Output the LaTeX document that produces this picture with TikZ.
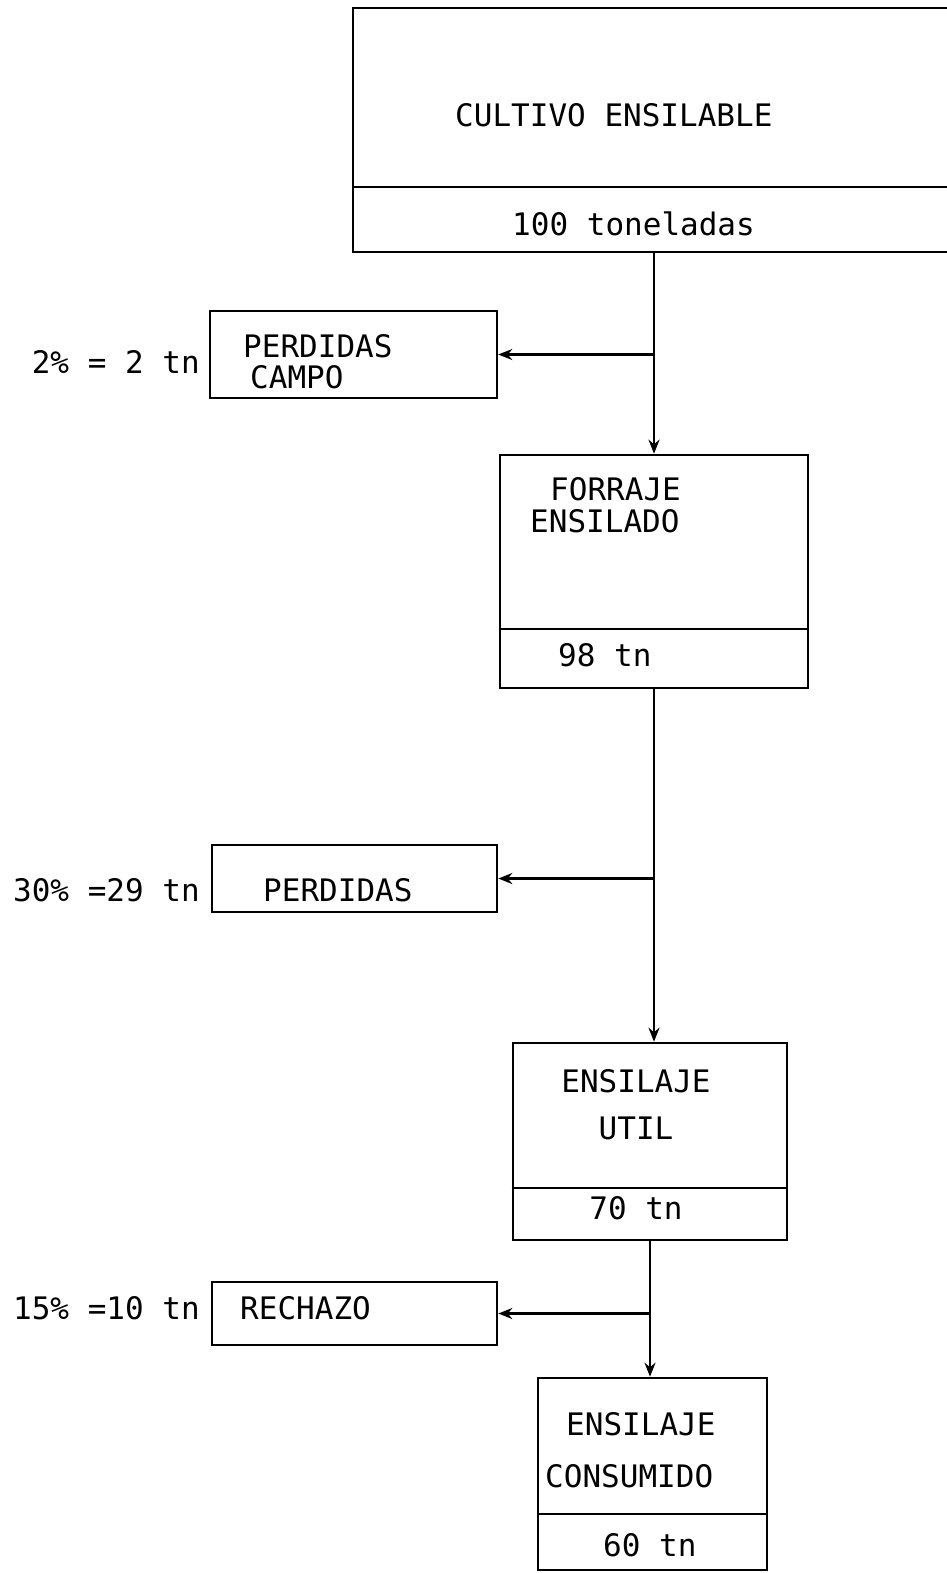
\documentclass[tikz,border=0pt]{standalone}
\usepackage{fontspec}
\setmonofont{DejaVu Sans Mono}
\usetikzlibrary{arrows.meta}
\begin{document}
\begin{tikzpicture}[x=1pt,y=-1pt,
  box/.style={draw, line width=2.6pt, inner sep=0pt},
  txt/.style={font=\ttfamily\fontsize{31}{36}\selectfont, inner sep=0pt},
  flow/.style={line width=2.6pt, -{Stealth[length=14pt,width=11pt]}},
  divider/.style={line width=2.6pt}
]
\clip (0,0) rectangle (947,1573);
\fill[white] (0,0) rectangle (947,1573);
% boxes
\node[box, minimum width=607pt, minimum height=244pt] (b1) at (656.5,130) {};
\node[box, minimum width=287pt, minimum height=87pt] (pc) at (353.5,354.5) {};
\node[box, minimum width=308pt, minimum height=233pt] (b2) at (654,571.5) {};
\node[box, minimum width=285pt, minimum height=67pt] (pl) at (354.5,878.5) {};
\node[box, minimum width=274pt, minimum height=197pt] (b3) at (650,1141.5) {};
\node[box, minimum width=285pt, minimum height=63pt] (rc) at (354.5,1313.5) {};
\node[box, minimum width=229pt, minimum height=192pt] (b4) at (652.5,1474) {};
% dividers
\coordinate (d1) at (0,187);
\coordinate (d2) at (0,629);
\coordinate (d3) at (0,1188);
\coordinate (d4) at (0,1514);
\draw[divider] (b1.west |- d1) -- (b1.east |- d1);
\draw[divider] (b2.west |- d2) -- (b2.east |- d2);
\draw[divider] (b3.west |- d3) -- (b3.east |- d3);
\draw[divider] (b4.west |- d4) -- (b4.east |- d4);
% connectors
\draw[flow] (b1.south -| b2.north) -- (b2.north);
\draw[flow] (pc.east -| b2.north) -- (pc.east);
\draw[flow] (b2.south) -- (b2.south |- b3.north);
\draw[flow] (pl.east -| b2.south) -- (pl.east);
\draw[flow] (b3.south) -- (b3.south |- b4.north);
\draw[flow] (rc.east -| b3.south) -- (rc.east);
% texts
\node[txt, anchor=west] (t1) at (455,115) {CULTIVO ENSILABLE};
\node[txt, anchor=west] (t2) at (512,224) {100 toneladas};
\node[txt, anchor=west] (t3) at (243,346) {PERDIDAS};
\node[txt, anchor=west] (t4) at (250,377) {CAMPO};
\node[txt, anchor=east] (l1) at (200,362) {2\% = 2 tn};
\node[txt, anchor=west] (t5) at (550,489) {FORRAJE};
\node[txt, anchor=west] (t6) at (530,521) {ENSILADO};
\node[txt, anchor=west] (t7) at (558,655) {98 tn};
\node[txt, anchor=west] (t8) at (263,890) {PERDIDAS};
\node[txt, anchor=east] (l2) at (200,890) {30\% =29 tn};
\node[txt] (t9) at (636,1081) {ENSILAJE};
\node[txt] (t10) at (636,1128) {UTIL};
\node[txt] (t11) at (636,1208) {70 tn};
\node[txt, anchor=west] (t12) at (240,1308) {RECHAZO};
\node[txt, anchor=east] (l3) at (200,1308) {15\% =10 tn};
\node[txt, anchor=west] (t13) at (566,1424) {ENSILAJE};
\node[txt, anchor=west] (t14) at (545,1476) {CONSUMIDO};
\node[txt, anchor=west] (t15) at (603,1545) {60 tn};
\end{tikzpicture}
\end{document}
